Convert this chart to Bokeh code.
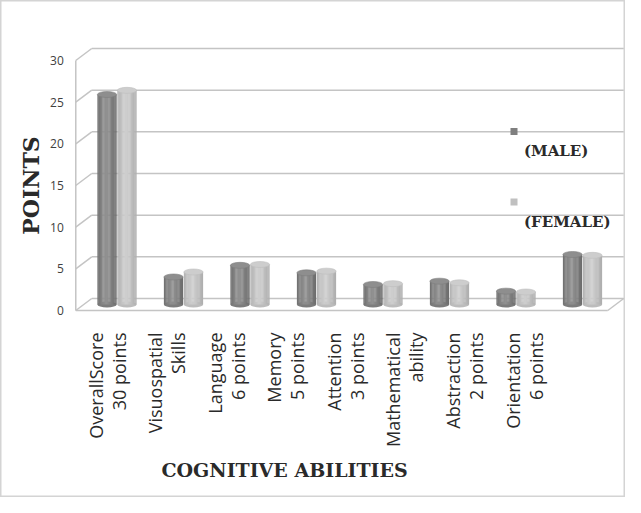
import numpy as np
from bokeh.plotting import figure
from bokeh.models import Range1d
from bokeh.embed import file_html
from bokeh.resources import INLINE
from bokeh.core.properties import value

# ---------------- data ----------------
cat_line1 = ["OverallScore", "Visuospatial", "Language", "Memory",
             "Attention", "Mathematical", "Abstraction", "Orientation"]
cat_line2 = ["30 points", "Skills", "6 points", "5 points",
             "3 points", "ability", "2 points", "6 points"]
male = [25.2, 3.3, 4.7, 3.8, 2.4, 2.8, 1.6, 6.0]
female = [25.7, 3.9, 4.8, 4.0, 2.5, 2.6, 1.5, 5.9]
y_ticks = [0, 5, 10, 15, 20, 25, 30]
series_names = ["(MALE)", "(FEMALE)"]

# ---------------- figure ----------------
n = len(cat_line1)
p = figure(width=625, height=497,
           x_range=Range1d(-1.7519, 7.6466), y_range=Range1d(-23.16, 36.48),
           x_axis_type=None, y_axis_type=None, min_border=0,
           toolbar_location=None, output_backend="svg")
p.grid.visible = False
p.outline_line_color = "#d4d4d4"
p.outline_line_width = 2
p.background_fill_color = "white"
p.border_fill_color = "white"

DX = 0.12   # depth offset (x units)
DY = 0.72   # depth offset (y units)
x0, x1 = -0.5, n - 0.5
GRID = "#c4c4c4"

# back wall gridlines + side wall diagonals
xs, ys = [], []
for t in y_ticks:
    xs.append([x0 + DX, x1 + DX]); ys.append([t + DY, t + DY])
    xs.append([x0 - DX, x0 + DX]); ys.append([t - DY, t + DY])
p.multi_line(xs, ys, line_color=GRID, line_width=1.5)

# ---------------- cylinders ----------------
W = 0.29
EH = 0.72
NS = 16

def shade(lo, hi, k):
    s = (k + 0.5) / NS
    v = lo + (hi - lo) * np.exp(-((s - 0.45) / 0.38) ** 2)
    v = int(round(v))
    return "#%02x%02x%02x" % (v, v, v)

series = [(male, -0.15, 102, 144, "#8e8e8e", "#7c7c7c"),
          (female, 0.15, 170, 205, "#cdcdcd", "#bcbcbc")]

for vals, off, lo, hi, topc, botc in series:
    cx = [i + off for i in range(n)]
    p.ellipse(x=cx, y=[0] * n, width=W, height=EH, fill_color=botc,
              line_color=None)
    for k in range(NS):
        c = shade(lo, hi, k)
        left = [x - W / 2 + k * W / NS for x in cx]
        right = [x - W / 2 + (k + 1) * W / NS + (0.004 if k < NS - 1 else 0)
                 for x in cx]
        p.quad(left=left, right=right, bottom=[0] * n, top=vals,
               fill_color=c, line_color=None)
    p.ellipse(x=cx, y=vals, width=W, height=EH, fill_color=topc,
              line_color=shade(lo, hi, 2), line_width=0.6)

# front floor edges and left-wall front edge
p.multi_line([[x0 - DX, x1 - DX], [x1 - DX, x1 + DX], [x0 - DX, x0 - DX]],
             [[-DY, -DY], [-DY, DY], [-DY, 30 - DY]],
             line_color=GRID, line_width=1.5)

# ---------------- y tick labels ----------------
p.text(x=[x0 - DX - 0.18] * len(y_ticks), y=[t - DY for t in y_ticks],
       text=[str(t) for t in y_ticks], text_align="right",
       text_baseline="middle", text_font=value("Open Sans"),
       text_font_size="12px", text_color="#404040")

# ---------------- category labels ----------------
lab_x = [-0.15 + 0.896 * k for k in range(n)]
ly = -3.36
p.text(x=[x - 0.173 for x in lab_x], y=[ly] * n, text=cat_line1,
       angle=np.pi / 2, text_align="right", text_baseline="middle",
       text_font=value("Open Sans"), text_font_size="18px",
       text_color="#2a2a2a")
p.text(x=[x + 0.173 for x in lab_x], y=[ly] * n, text=cat_line2,
       angle=np.pi / 2, text_align="right", text_baseline="middle",
       text_font=value("Open Sans"), text_font_size="18px",
       text_color="#2a2a2a")

# ---------------- axis titles ----------------
p.text(x=[-1.30], y=[14.28], text=["POINTS"], angle=np.pi / 2,
       text_align="center", text_baseline="middle",
       text_font=value("DejaVu Serif"), text_font_style="bold",
       text_font_size="22px", text_color="#2a2a2a")
p.text(x=[2.519], y=[-19.8], text=["COGNITIVE ABILITIES"],
       text_align="center", text_baseline="middle",
       text_font=value("DejaVu Serif"), text_font_style="bold",
       text_font_size="19px", text_color="#2a2a2a")

# ---------------- legend ----------------
p.scatter(x=[5.97, 5.97], y=[20.76, 12.3], marker="square", size=7,
          fill_color=["#7f7f7f", "#c0c0c0"], line_color=None)
p.text(x=[6.12, 6.12], y=[18.48, 9.96], text=series_names,
       text_align="left", text_baseline="middle",
       text_font=value("DejaVu Serif"), text_font_style="bold",
       text_font_size="15px", text_color="#2a2a2a")

open("out.html", "w").write(file_html(p, INLINE))
